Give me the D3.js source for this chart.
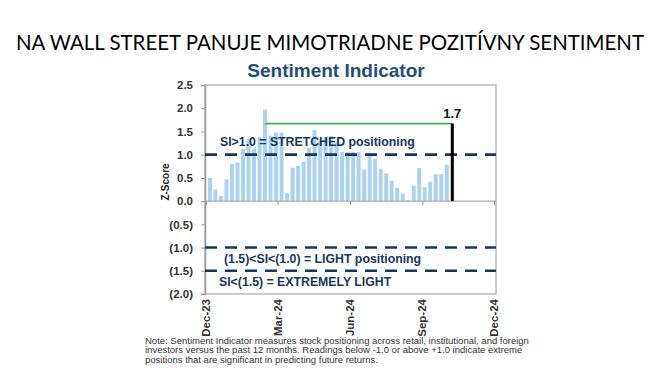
<!DOCTYPE html>
<html lang="sk">
<head>
<meta charset="utf-8">
<title>Sentiment Indicator</title>
<style>
  body { margin: 0; background: #fff; }
  svg text { font-family: "Liberation Sans", Arial, sans-serif; }
</style>
</head>
<body>
<svg id="chart" width="661" height="377"></svg>
<script src="https://d3js.org/d3.v7.min.js"></script>
<script>
// weekly readings, first week 2023-12-06
const firstWeek = new Date(2023, 11, 6)
const zScores = [0.50, 0.25, 0.11, 0.47, 0.80, 0.83, 1.12, 1.34, 1.12, 1.38,
                 1.97, 1.41, 1.48, 1.48, 0.17, 0.72, 0.76, 0.85, 1.14, 1.53,
                 1.29, 1.38, 1.40, 1.26, 1.06, 1.06, 1.06, 1.06, 0.68, 1.04,
                 0.91, 0.70, 0.60, 0.44, 0.29, 0.16, 0.02, 0.33, 0.71, 0.30,
                 0.42, 0.58, 0.58, 0.78]
const latestValue = 1.67
const latestLabel = "1.7"
const peakWeek = 10          // index of the peak where the green line starts
const yTicks = [2.5, 2.0, 1.5, 1.0, 0.5, 0.0, -0.5, -1.0, -1.5, -2.0]
const xTickDates = [new Date(2023, 11, 1), new Date(2024, 2, 1), new Date(2024, 5, 1),
                    new Date(2024, 8, 1), new Date(2024, 11, 1)]
const thresholds = [1.0, -1.0, -1.5]
const zoneLabels = [
  { text: "SI>1.0 = STRETCHED positioning", x: 220, y: 1.18 },
  { text: "(1.5)<SI<(1.0) = LIGHT positioning", x: 224, y: -1.34 },
  { text: "SI<(1.5) = EXTREMELY LIGHT", x: 219, y: -1.82 }
]
const noteLines = [
  "Note: Sentiment Indicator measures stock positioning across retail, institutional, and foreign",
  "investors versus the past 12 months. Readings below -1.0 or above +1.0 indicate extreme",
  "positions that are significant in predicting future returns."
]

const weekDate = i => d3.timeDay.offset(firstWeek, i * 7)

const svg = d3.select("#chart")
const box = { left: 205, right: 496, top: 85, bottom: 294 }

const x = d3.scaleTime()
  .domain([xTickDates[0], xTickDates[xTickDates.length - 1]])
  .range([206, 494])
const y = d3.scaleLinear().domain([-2, 2.5]).range([box.bottom, box.top])

const navy = "#17375e"

// titles
const title = svg.append("text")
  .attr("x", 330).attr("y", 50)
  .attr("text-anchor", "middle")
  .style("font-family", "Lato, 'Open Sans', sans-serif")
  .style("font-size", "23px")
  .attr("fill", "#000")
  .text("NA WALL STREET PANUJE MIMOTRIADNE POZITÍVNY SENTIMENT")
// fit the headline to the width it has in the slide
const tw = title.node().getComputedTextLength()
title.style("font-size", (23 * 628 / tw).toFixed(2) + "px")

svg.append("text")
  .attr("x", 336).attr("y", 77)
  .attr("text-anchor", "middle")
  .style("font-size", "19px").style("font-weight", "bold")
  .attr("fill", "#1f4e79")
  .text("Sentiment Indicator")

// plot frame
svg.append("rect")
  .attr("x", box.left).attr("y", box.top)
  .attr("width", box.right - box.left).attr("height", box.bottom - box.top)
  .attr("fill", "none").attr("stroke", "#bdbdbd").attr("stroke-width", 1.5)

// bars
const barW = 4
svg.append("g").selectAll("rect")
  .data(zScores)
  .join("rect")
  .attr("x", (d, i) => x(weekDate(i)) - barW / 2)
  .attr("width", barW)
  .attr("y", d => y(Math.max(d, 0)))
  .attr("height", d => Math.abs(y(d) - y(0)))
  .attr("fill", "#acd2f2")

// y axis
const yAxis = svg.append("g")
  .attr("transform", `translate(${box.left},0)`)
  .call(d3.axisLeft(y).tickValues(yTicks).tickSize(4).tickPadding(8)
    .tickFormat(d => {
      const s = Math.abs(d).toFixed(1)
      return d < 0 ? `(${s})` : s
    }))
yAxis.select(".domain").attr("stroke", "#9a9a9a").attr("stroke-width", 1.5)
yAxis.selectAll(".tick line").attr("stroke", "#9a9a9a")
yAxis.selectAll("text")
  .style("font-size", "11.5px").style("font-weight", "bold").attr("fill", "#333")

svg.append("text")
  .attr("transform", `translate(169,182) rotate(-90)`)
  .attr("text-anchor", "middle")
  .style("font-size", "10px").style("font-weight", "bold")
  .attr("fill", "#222")
  .text("Z-Score")

// x axis along zero
const xAxis = svg.append("g")
  .attr("transform", `translate(0,${y(0)})`)
  .call(d3.axisBottom(x).tickValues(xTickDates).tickSize(4).tickFormat(""))
xAxis.select(".domain").attr("stroke", "#9a9a9a").attr("stroke-width", 1)
  .attr("d", `M${box.left},0H${box.right}`)
xAxis.selectAll(".tick line").attr("stroke", "#9a9a9a")

const fmt = d3.timeFormat("%b-%y")
svg.append("g").selectAll("text")
  .data(xTickDates)
  .join("text")
  .attr("transform", d => `translate(${x(d) + 4},${box.bottom + 5}) rotate(-90)`)
  .attr("text-anchor", "end")
  .style("font-size", "11.5px").style("font-weight", "bold")
  .attr("fill", "#333")
  .text(fmt)

// threshold lines
svg.append("g").selectAll("line")
  .data(thresholds)
  .join("line")
  .attr("x1", box.left).attr("x2", box.right)
  .attr("y1", d => y(d)).attr("y2", d => y(d))
  .attr("stroke", navy).attr("stroke-width", 2.6)
  .attr("stroke-dasharray", "12,8")

// zone labels
svg.append("g").selectAll("text")
  .data(zoneLabels)
  .join("text")
  .attr("x", d => d.x).attr("y", d => y(d.y))
  .style("font-size", "12.3px").style("font-weight", "bold")
  .attr("fill", navy)
  .text(d => d.text)

// latest reading
const latestX = x(weekDate(zScores.length))
svg.append("line")
  .attr("x1", x(weekDate(peakWeek))).attr("x2", latestX)
  .attr("y1", y(latestValue)).attr("y2", y(latestValue))
  .attr("stroke", "#3cb44a").attr("stroke-width", 1.8)
svg.append("line")
  .attr("x1", latestX).attr("x2", latestX)
  .attr("y1", y(0)).attr("y2", y(latestValue))
  .attr("stroke", "#000").attr("stroke-width", 3)
svg.append("text")
  .attr("x", latestX).attr("y", y(latestValue) - 6)
  .attr("text-anchor", "middle")
  .style("font-size", "13px").style("font-weight", "bold")
  .attr("fill", "#111")
  .text(latestLabel)

// footnote
svg.append("g").selectAll("text")
  .data(noteLines)
  .join("text")
  .attr("x", 145).attr("y", (d, i) => 343.5 + i * 9.5)
  .style("font-size", "9.5px")
  .attr("fill", "#333")
  .text(d => d)
</script>
</body>
</html>
